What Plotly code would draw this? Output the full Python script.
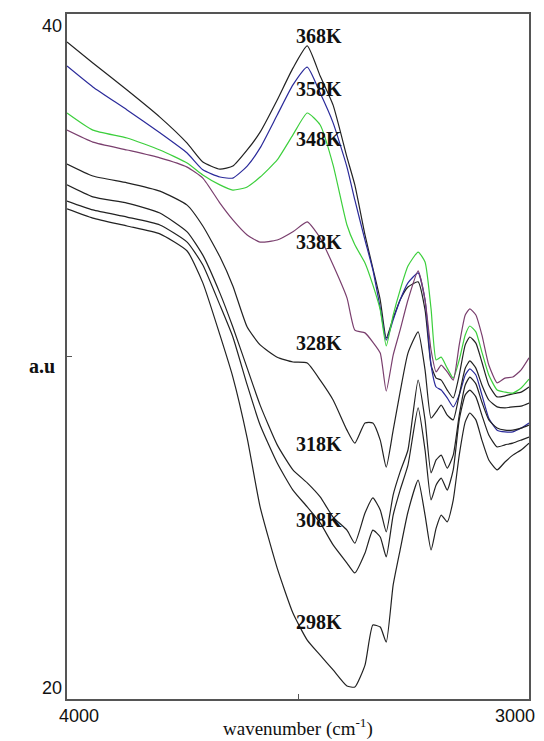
import plotly.graph_objects as go

# Wavenumber grid (cm-1), shared by all spectra
wavenumber = [4000, 3944, 3870, 3799, 3740, 3706, 3669, 3641, 3610, 3582,
              3545, 3511, 3480, 3452, 3424, 3394, 3377, 3355, 3338, 3322,
              3309, 3294, 3279, 3262, 3240, 3225, 3212, 3201, 3190, 3177,
              3164, 3151, 3138, 3128, 3115, 3102, 3087, 3069, 3052, 3035,
              3017, 3000]

temperatures = ["368K", "358K", "348K", "338K", "328K", "318K", "308K", "298K"]

s368 = [39.18, 38.57, 37.78, 36.99, 36.23, 35.68, 35.47, 35.56, 36.03, 36.55,
        37.49, 38.42, 39.07, 38.19, 37.34, 35.82, 35.01, 33.55, 32.58, 31.65,
        30.54, 31.12, 31.65, 32.03, 32.18, 31.36, 29.75, 29.37, 29.31, 29.02,
        28.79, 29.46, 30.34, 30.57, 30.39, 29.84, 29.17, 28.82, 28.85, 28.91,
        28.96, 29.11]
s358 = [38.48, 37.87, 37.20, 36.53, 35.94, 35.45, 35.24, 35.21, 35.56, 36.09,
        37.05, 37.93, 38.45, 37.69, 36.82, 35.53, 34.57, 33.40, 32.53, 31.42,
        30.48, 31.07, 31.65, 32.15, 32.44, 31.65, 29.75, 29.11, 29.02, 28.79,
        28.53, 28.88, 29.46, 29.64, 29.46, 28.88, 28.20, 27.85, 27.80, 27.80,
        27.91, 28.06]
s348 = [37.11, 36.61, 36.38, 36.03, 35.65, 35.30, 35.01, 34.86, 34.95, 35.24,
        35.74, 36.47, 37.11, 36.76, 35.59, 33.84, 33.26, 32.73, 32.09, 31.36,
        30.31, 31.21, 31.94, 32.64, 33.05, 32.76, 31.39, 29.90, 29.98, 29.66,
        29.37, 29.90, 30.63, 30.89, 30.72, 30.13, 29.46, 29.02, 28.96, 28.93,
        29.08, 29.34]
s338 = [36.61, 36.26, 36.03, 35.80, 35.53, 35.21, 34.48, 33.99, 33.55, 33.34,
        33.40, 33.64, 33.93, 33.46, 32.67, 31.71, 30.77, 30.69, 30.42, 30.10,
        28.99, 30.04, 30.77, 31.65, 32.50, 31.65, 30.19, 29.55, 29.75, 29.55,
        29.31, 30.34, 31.21, 31.39, 31.21, 30.63, 29.75, 29.23, 29.37, 29.40,
        29.61, 29.96]
s328 = [35.62, 35.27, 35.07, 34.83, 34.42, 33.81, 32.91, 32.06, 30.86, 30.34,
        29.98, 29.84, 29.81, 29.31, 28.73, 27.85, 27.47, 28.06, 28.06, 27.56,
        26.77, 27.85, 28.96, 30.10, 30.72, 29.61, 28.20, 28.38, 28.58, 28.29,
        28.15, 28.88, 29.66, 29.87, 29.66, 29.17, 28.73, 28.53, 28.50, 28.53,
        28.55, 28.64]
s318 = [35.01, 34.66, 34.48, 34.19, 33.64, 32.96, 31.85, 30.86, 29.66, 28.58,
        27.42, 26.69, 26.31, 25.90, 25.31, 24.93, 24.55, 25.43, 25.87, 25.52,
        24.88, 25.96, 26.63, 27.27, 29.31, 28.15, 26.60, 26.98, 27.12, 26.74,
        27.12, 28.29, 29.17, 29.40, 29.20, 28.67, 28.15, 27.91, 27.85, 27.85,
        27.91, 28.00]
s308 = [34.54, 34.28, 34.07, 33.84, 33.34, 32.67, 31.50, 30.57, 29.17, 28.00,
        26.89, 26.10, 25.61, 25.14, 24.50, 23.97, 23.68, 24.26, 24.93, 24.73,
        24.15, 25.37, 26.10, 26.83, 28.50, 27.27, 25.81, 26.25, 26.45, 26.10,
        26.69, 28.15, 28.88, 29.02, 28.82, 28.29, 27.71, 27.36, 27.42, 27.47,
        27.56, 27.65]
s298 = [34.31, 34.04, 33.81, 33.58, 33.08, 32.15, 30.63, 29.40, 27.62, 25.61,
        23.82, 22.51, 21.72, 21.28, 20.85, 20.38, 20.35, 20.99, 22.16, 22.10,
        21.66, 23.33, 24.35, 25.46, 26.39, 25.37, 24.35, 24.99, 25.37, 25.17,
        25.81, 27.12, 28.09, 28.35, 28.15, 27.56, 26.98, 26.69, 26.92, 27.12,
        27.27, 27.47]

series = [s368, s358, s348, s338, s328, s318, s308, s298]
colors = ["#222222", "#2a2a9a", "#3ccf3c", "#7a3f6e",
          "#222222", "#222222", "#222222", "#222222"]

# Curve-label anchor positions (data units)
label_x = [3455] * 8
label_y = [39.36, 37.81, 36.35, 33.34, 30.39, 27.45, 25.23, 22.25]

fig = go.Figure()
for name, ys, c in zip(temperatures, series, colors):
    fig.add_trace(go.Scatter(
        x=wavenumber, y=ys, mode="lines", name=name,
        line=dict(color=c, width=1.2, shape="spline", smoothing=0.5),
        showlegend=False, hoverinfo="x+y+name"))

serif = "Liberation Serif"
sans = "Liberation Sans"

for name, lx, ly in zip(temperatures, label_x, label_y):
    fig.add_annotation(x=lx, y=ly, xref="x", yref="y", text=name,
                       showarrow=False, xanchor="center", yanchor="middle",
                       font=dict(family=serif, size=20, color="#111111",
                                 weight="bold"))

# Axis end labels (offset from the frame corners as in the original)
fig.add_annotation(x=-0.058, y=39.65, xref="paper", yref="y", text="40",
                   showarrow=False, font=dict(family=sans, size=18, color="#111"))
fig.add_annotation(x=-0.058, y=20.32, xref="paper", yref="y", text="20",
                   showarrow=False, font=dict(family=sans, size=18, color="#111"))
fig.add_annotation(x=3974, y=-0.025, xref="x", yref="paper", text="4000",
                   showarrow=False, yanchor="middle",
                   font=dict(family=sans, size=18, color="#111"))
fig.add_annotation(x=3030, y=-0.025, xref="x", yref="paper", text="3000",
                   showarrow=False, yanchor="middle",
                   font=dict(family=sans, size=18, color="#111"))
fig.add_annotation(x=3500, y=-0.041, xref="x", yref="paper",
                   text="wavenumber (cm<sup>-1</sup>)", showarrow=False,
                   yanchor="middle", font=dict(family=serif, size=19, color="#111"))
fig.add_annotation(x=-0.087, y=29.72, xref="paper", yref="y", text="a.u",
                   showarrow=False,
                   font=dict(family=serif, size=20, color="#111", weight="bold"))

fig.update_xaxes(range=[4000, 3000], showgrid=False, zeroline=False,
                 showline=True, linecolor="#555555", linewidth=1.5, mirror=True,
                 ticks="inside", tickvals=[3500], ticklen=5, tickcolor="#555555",
                 showticklabels=False)
fig.update_yaxes(range=[20, 40], showgrid=False, zeroline=False,
                 showline=True, linecolor="#555555", linewidth=1.5, mirror=True,
                 ticks="inside", tickvals=[30], ticklen=5, tickcolor="#555555",
                 showticklabels=False)

fig.update_layout(width=544, height=741,
                  margin=dict(l=67, r=15, t=14, b=42),
                  paper_bgcolor="white", plot_bgcolor="white")

fig.write_html("out.html")
